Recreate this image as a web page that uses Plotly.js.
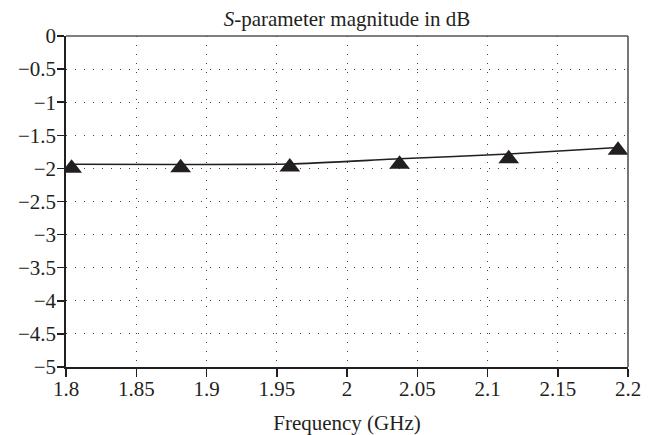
<!DOCTYPE html>
<html>
<head>
<meta charset="utf-8">
<script src="https://cdn.plot.ly/plotly-3.0.1.min.js"></script>
<style>html,body{margin:0;padding:0;background:#fff;}#chart{width:656px;height:435px;}</style>
</head>
<body>
<div id="chart"></div>
<script>
// Frequency (GHz) of the sample points
const frequency = [1.804, 1.8816, 1.9593, 2.0374, 2.1151, 2.1929];
// S-parameter magnitude (dB) along the curve
const curveDb = [-1.938, -1.941, -1.934, -1.855, -1.782, -1.684];
// S-parameter magnitude (dB) at the triangle markers
const markerDb = [-1.997, -1.99, -1.978, -1.936, -1.853, -1.726];
const xTicks = [1.8, 1.85, 1.9, 1.95, 2, 2.05, 2.1, 2.15, 2.2];
const yTicks = [0, -0.5, -1, -1.5, -2, -2.5, -3, -3.5, -4, -4.5, -5];

const fontFam = 'Liberation Serif';
const traces = [
  {x: frequency, y: curveDb, mode: 'lines', type: 'scatter',
   line: {color: '#231f20', width: 1.6, shape: 'spline', smoothing: 0.6},
   hoverinfo: 'skip', showlegend: false},
  {x: frequency, y: markerDb, mode: 'markers', type: 'scatter',
   marker: {symbol: 'triangle-up', size: 18, color: '#231f20'},
   showlegend: false}
];
const layout = {
  width: 656, height: 435,
  margin: {l: 66, r: 28, t: 36, b: 68},
  paper_bgcolor: '#fff', plot_bgcolor: '#fff',
  font: {family: fontFam, size: 21, color: '#231f20'},
  title: {text: '<i>S</i>-parameter magnitude in dB', x: 0.5, xref: 'paper', xanchor: 'center',
          y: 1 - 19/435, yref: 'container', yanchor: 'middle', font: {family: fontFam, size: 21, color: '#231f20'}},
  xaxis: {range: [1.8, 2.2], tickvals: xTicks, ticktext: xTicks.map(String),
          ticks: 'outside', ticklen: 8, tickwidth: 1.5, tickcolor: '#231f20',
          ticklabelstandoff: -6,
          showline: true, linecolor: '#231f20', linewidth: 1.8,
          showgrid: true, gridcolor: '#444', gridwidth: 1, griddash: '1px,8px',
          zeroline: false, fixedrange: true,
          title: {text: 'Frequency (GHz)', standoff: 15, font: {family: fontFam, size: 21}}},
  yaxis: {range: [-5, 0], tickvals: yTicks,
          ticks: 'outside', ticklen: 7, tickwidth: 1.5, tickcolor: '#231f20',
          ticklabelstandoff: -3,
          showline: true, linecolor: '#231f20', linewidth: 1.8,
          showgrid: true, gridcolor: '#444', gridwidth: 1, griddash: '1px,8px',
          zeroline: false, fixedrange: true},
  shapes: [
    {type: 'line', xref: 'paper', yref: 'paper', x0: 0, x1: 1, y0: 1, y1: 1, line: {color: '#555', width: 1.6}},
    {type: 'line', xref: 'paper', yref: 'paper', x0: 1, x1: 1, y0: 0, y1: 1, line: {color: '#555', width: 1.6}}
  ]
};
Plotly.newPlot('chart', traces, layout, {displayModeBar: false, staticPlot: true});
</script>
</body>
</html>
